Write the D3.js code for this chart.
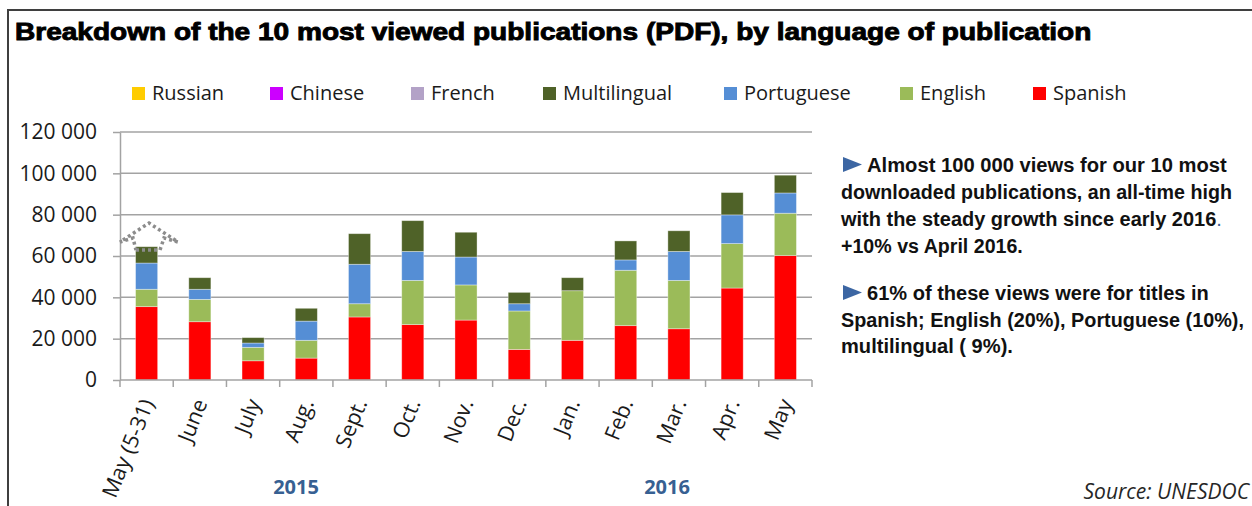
<!DOCTYPE html>
<html>
<head>
<meta charset="utf-8">
<script src="https://cdn.jsdelivr.net/npm/d3@7"></script>
<style>
  body { margin: 0; background: #fff; }
  svg text { font-family: "Open Sans", sans-serif; }
</style>
</head>
<body>
<div id="my_dataviz"></div>
<script>
// chart values
var months = ["May (5-31)", "June", "July", "Aug.", "Sept.", "Oct.", "Nov.", "Dec.", "Jan.", "Feb.", "Mar.", "Apr.", "May"];
var spanish      = [35500, 28200,  9300, 10600, 30500, 26800, 29000, 14800, 19200, 26300, 24800, 44500, 60200];
var english      = [ 8400, 10800,  6500,  8600,  6400, 21400, 17000, 18600, 24000, 26800, 23400, 21500, 20500];
var portuguese   = [12700,  4900,  2100,  9300, 19100, 14000, 13500,  3500,     0,  5000, 14000, 13900,  9800];
var multilingual = [ 7900,  5600,  2600,  6200, 14800, 14900, 12000,  5500,  6300,  9200, 10000, 10800,  8600];
var french       = [0, 0, 0, 0, 0, 0, 0, 0, 0, 0, 0, 0, 0];
var chinese      = [0, 0, 0, 0, 0, 0, 0, 0, 0, 0, 0, 0, 0];
var russian      = [0, 0, 0, 0, 0, 0, 0, 0, 0, 0, 0, 0, 0];
var stackKeys = ["Spanish", "English", "Portuguese", "Multilingual", "French", "Chinese", "Russian"];
var legendKeys = ["Russian", "Chinese", "French", "Multilingual", "Portuguese", "English", "Spanish"];
var yTicks = [0, 20000, 40000, 60000, 80000, 100000, 120000];
var years = ["2015", "2016"];

var W = 1252, H = 506;
var plot = {left: 120, right: 812, top: 132, bottom: 380};

var svg = d3.select("#my_dataviz")
  .append("svg")
    .attr("width", W)
    .attr("height", H);

// squeeze/stretch a text horizontally to a given width (keeps real bounds)
function fitWidth(sel, x0, y0, w) {
  var natural = sel.node().getComputedTextLength();
  sel.attr("transform", "translate(" + x0 + "," + y0 + ") scale(" + (w / natural) + ",1)");
}

// outer frame (runs off the right and bottom edge)
svg.append("rect")
  .attr("x", 8).attr("y", 10)
  .attr("width", 1400).attr("height", 700)
  .attr("fill", "none")
  .attr("stroke", "#3f3f3f")
  .attr("stroke-width", 2);

// title
var title = svg.append("text")
  .style("font-family", "'Liberation Sans', Arial, sans-serif")
  .style("font-weight", "bold")
  .attr("font-size", "23.5px")
  .attr("stroke", "#000")
  .attr("stroke-width", 0.9)
  .attr("fill", "#000")
  .text("Breakdown of the 10 most viewed publications (PDF), by language of publication");
fitWidth(title, 15, 40, 1077);

// build table for the stack
var table = months.map(function(m, i) {
  return {
    month: m,
    Spanish: spanish[i], English: english[i], Portuguese: portuguese[i],
    Multilingual: multilingual[i], French: french[i], Chinese: chinese[i], Russian: russian[i]
  };
});

var color = d3.scaleOrdinal()
  .domain(["Russian", "Chinese", "French", "Multilingual", "Portuguese", "English", "Spanish"])
  .range(["#FFCC00", "#CC00FF", "#B3A2C7", "#4F6228", "#558ED5", "#9BBB59", "#FF0000"]);

var x = d3.scaleBand()
  .domain(months)
  .range([plot.left, plot.right])
  .paddingInner(0.585)
  .paddingOuter(0.2925);

var y = d3.scaleLinear()
  .domain([0, 120000])
  .range([plot.bottom, plot.top]);

var fmt = d3.formatLocale({decimal: ",", thousands: " ", grouping: [3], currency: ["", ""]}).format(",d");

// gridlines
svg.append("g")
  .selectAll("line")
  .data(yTicks.filter(function(d) { return d > 0; }))
  .enter()
  .append("line")
    .attr("x1", plot.left)
    .attr("x2", plot.right)
    .attr("y1", function(d) { return y(d); })
    .attr("y2", function(d) { return y(d); })
    .attr("stroke", "#a3a3a3")
    .attr("stroke-width", 1.5);

// y axis
var yAxis = svg.append("g")
  .attr("transform", "translate(" + plot.left + ",0)")
  .call(d3.axisLeft(y).tickValues(yTicks).tickFormat(fmt).tickSize(7).tickSizeOuter(0).tickPadding(16));
yAxis.selectAll("line").attr("stroke", "#a3a3a3").attr("stroke-width", 1.5);
yAxis.select(".domain").attr("stroke", "#a3a3a3").attr("stroke-width", 1.5);
yAxis.selectAll("text")
  .attr("font-size", "21px")
  .attr("fill", "#1a1a1a")
  .style("font-family", "'Open Sans', sans-serif");

// bars
var series = d3.stack().keys(stackKeys)(table);
svg.append("g")
  .selectAll("g")
  .data(series)
  .enter()
  .append("g")
    .attr("fill", function(d) { return color(d.key); })
  .selectAll("rect")
  .data(function(d) { return d; })
  .enter()
  .append("rect")
    .attr("x", function(d) { return x(d.data.month); })
    .attr("y", function(d) { return y(d[1]); })
    .attr("width", x.bandwidth())
    .attr("height", function(d) { return y(d[0]) - y(d[1]); })
    .attr("stroke", "rgba(255,255,255,0.45)")
    .attr("stroke-width", function(d) { return d[1] > d[0] ? 0.8 : 0; });

// x axis line and boundary ticks
var step = x.step();
var xa = svg.append("g");
xa.append("line")
  .attr("x1", plot.left).attr("x2", plot.right)
  .attr("y1", plot.bottom).attr("y2", plot.bottom)
  .attr("stroke", "#a3a3a3").attr("stroke-width", 1.5);
xa.selectAll(".tk")
  .data(d3.range(months.length + 1))
  .enter()
  .append("line")
    .attr("x1", function(i) { return plot.left + i * step; })
    .attr("x2", function(i) { return plot.left + i * step; })
    .attr("y1", plot.bottom)
    .attr("y2", plot.bottom + 7)
    .attr("stroke", "#a3a3a3").attr("stroke-width", 1.5);

// rotated month labels
xa.selectAll(".lbl")
  .data(months)
  .enter()
  .append("text")
    .attr("transform", function(d) { return "translate(" + (x(d) + x.bandwidth() / 2 + 1) + ",400) rotate(-68)"; })
    .attr("text-anchor", "end")
    .attr("dy", "0.35em")
    .attr("font-size", "21.5px")
    .attr("fill", "#1a1a1a")
    .text(function(d) { return d; });

// year labels
svg.selectAll(".yr")
  .data(years)
  .enter()
  .append("text")
    .attr("x", function(d, i) { return i == 0 ? 296 : 667; })
    .attr("y", 494)
    .attr("text-anchor", "middle")
    .attr("font-size", "20px")
    .attr("font-weight", "bold")
    .attr("fill", "#376092")
    .text(function(d) { return d; });

// legend
var legendX = [132, 270, 411, 543, 724, 900, 1033];
var lg = svg.selectAll(".lg")
  .data(legendKeys)
  .enter()
  .append("g")
    .attr("transform", function(d, i) { return "translate(" + legendX[i] + ",87)"; });
lg.append("rect")
  .attr("width", 13).attr("height", 13)
  .attr("fill", function(d) { return color(d); });
lg.append("text")
  .attr("x", 20)
  .attr("y", 13)
  .attr("font-size", "20px")
  .attr("fill", "#1a1a1a")
  .text(function(d) { return d; });

// dotted arrow over the first bar
var arrow = d3.line()([[136, 250], [160, 250], [164, 238], [178, 242], [149, 223], [120, 242], [133, 238], [136, 250]]);
svg.append("path")
  .attr("d", arrow)
  .attr("fill", "none")
  .attr("stroke", "#8c8c8c")
  .attr("stroke-width", 3.5)
  .attr("stroke-dasharray", "3,3");

// comment block on the right
var notes = [
  {x: 867, y: 172, w: 360, t: "Almost 100 000 views for our 10 most", tri: true},
  {x: 841, y: 199, w: 391, t: "downloaded publications, an all-time high"},
  {x: 841, y: 226, w: 381, t: "with the steady growth since early 2016", dot: true},
  {x: 841, y: 253, w: 182, t: "+10% vs April 2016."},
  {x: 867, y: 300, w: 342, t: "61% of these views were for titles in", tri: true},
  {x: 841, y: 327, w: 403, t: "Spanish; English (20%), Portuguese (10%),"},
  {x: 841, y: 353, w: 172, t: "multilingual ( 9%)."}
];
notes.forEach(function(n) {
  var t = svg.append("text")
    .style("font-family", "'Liberation Sans', Arial, sans-serif")
    .attr("font-weight", "bold")
    .attr("font-size", "20.5px")
    .attr("fill", "#111")
    .text(n.t);
  if (n.dot) {
    t.append("tspan")
      .attr("font-weight", "normal")
      .attr("fill", "#376092")
      .text(".");
  }
  fitWidth(t, n.x, n.y, n.w);
  if (n.tri) {
    svg.append("path")
      .attr("d", d3.line()([[843, n.y - 15], [862, n.y - 7.5], [843, n.y]]) + "Z")
      .attr("fill", "#3c66a3");
  }
});

// source
svg.append("text")
  .attr("x", 1249)
  .attr("y", 499)
  .attr("text-anchor", "end")
  .attr("font-size", "21px")
  .attr("font-style", "italic")
  .attr("fill", "#262626")
  .text("Source: UNESDOC");
</script>
</body>
</html>
